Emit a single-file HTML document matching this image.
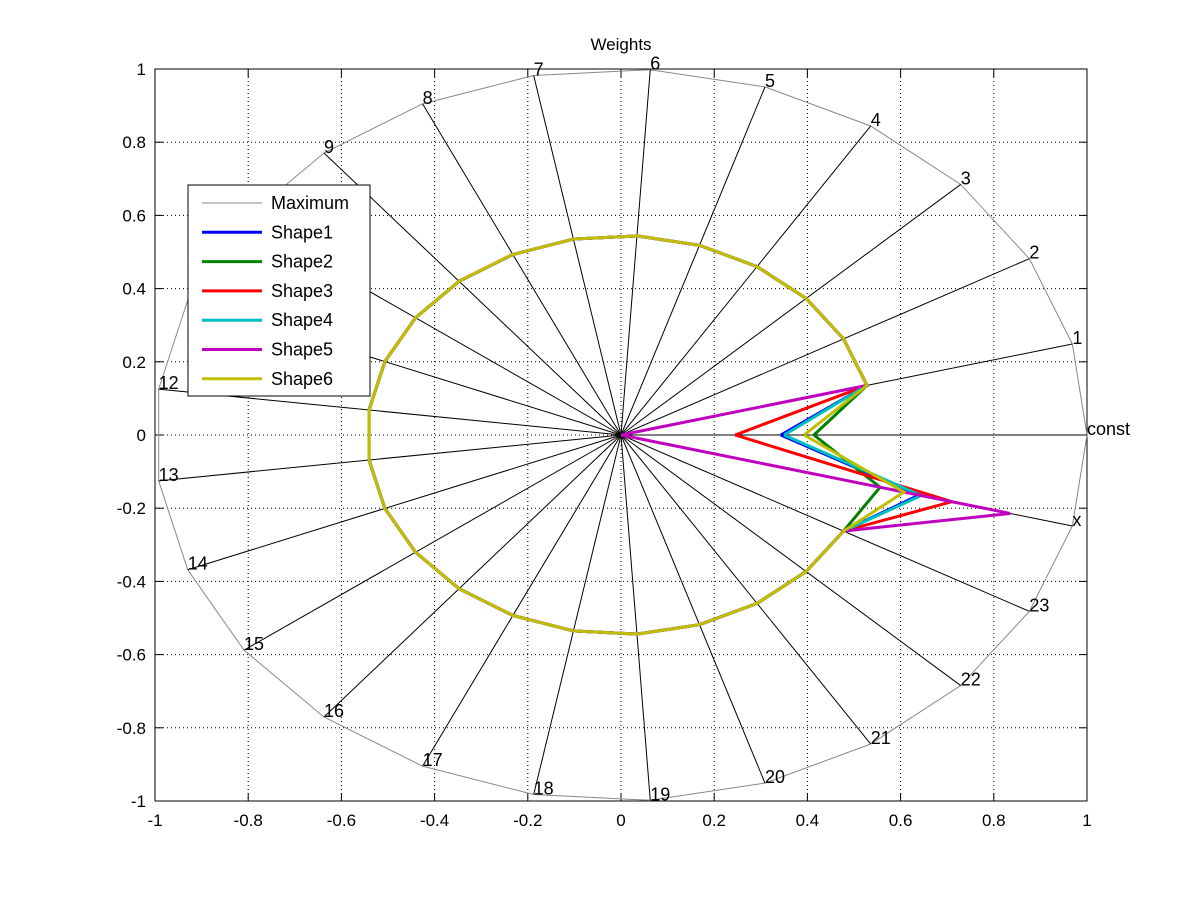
<!DOCTYPE html>
<html><head><meta charset="utf-8"><style>body{margin:0;background:#fff}svg{display:block}text{font-family:"Liberation Sans",sans-serif}</style></head>
<body>
<svg id="s" width="1201" height="901" xmlns="http://www.w3.org/2000/svg"></svg>
<script>
const cx=621,cy=435,sx=466,sy=366;
const X=v=>cx+v*sx, Y=v=>cy-v*sy;
let h='<rect width="1201" height="901" fill="#fff"/>';
for(let i=-5;i<=5;i++){const v=i/5;
 if(i>-5&&i<5){h+=`<line x1="${X(v)}" y1="69" x2="${X(v)}" y2="801" stroke="#000" stroke-width="1" stroke-dasharray="1,3"/>`;
 h+=`<line x1="155" y1="${Y(v)}" x2="1087" y2="${Y(v)}" stroke="#000" stroke-width="1" stroke-dasharray="1,3"/>`;}
 const lbl=(Math.round(v*10)/10).toString();
 h+=`<text x="${X(v)}" y="826" font-size="17" text-anchor="middle">${lbl}</text>`;
 h+=`<text x="146" y="${Y(v)+6}" font-size="17" text-anchor="end">${lbl}</text>`;
 h+=`<line x1="${X(v)}" y1="801" x2="${X(v)}" y2="793" stroke="#000"/><line x1="${X(v)}" y1="69" x2="${X(v)}" y2="77" stroke="#000"/>`;
 h+=`<line x1="155" y1="${Y(v)}" x2="163" y2="${Y(v)}" stroke="#000"/><line x1="1087" y1="${Y(v)}" x2="1079" y2="${Y(v)}" stroke="#000"/>`;
}
h+=`<rect x="155" y="69" width="932" height="732" fill="none" stroke="#000"/>`;
const N=25, names=['const'];for(let i=1;i<=23;i++)names.push(''+i);names.push('x');
const ang=i=>i*2*Math.PI/N;
const P=(i,r)=>[X(r*Math.cos(ang(i))),Y(r*Math.sin(ang(i)))];
let pts=[];for(let i=0;i<=N;i++)pts.push(P(i%N,1).join(','));
h+=`<polyline points="${pts.join(' ')}" fill="none" stroke="#888" stroke-width="1"/>`;
for(let i=0;i<N;i++){const p=P(i,1);h+=`<line x1="${cx}" y1="${cy}" x2="${p[0]}" y2="${p[1]}" stroke="#000" stroke-width="1"/>`;
 h+=`<text x="${p[0]}" y="${p[1]}" font-size="18">${names[i]}</text>`;}
const shapes=[['#0000ff',0.343,0.66],['#008000',0.414,0.574],['#ff0000',0.245,0.733],['#00bfbf',0.35,0.665],['#bf00bf',0,0.862],['#bfbf00',0.393,0.627]];
for(const [c,a,b] of shapes){let q=[];for(let i=0;i<=N;i++){const k=i%N;const r=k==0?a:(k==24?b:0.545);q.push(P(k,r).join(','));}
 h+=`<polyline points="${q.join(' ')}" fill="none" stroke="${c}" stroke-width="3" stroke-linejoin="miter"/>`;}
h+=`<text x="621" y="50" font-size="17" text-anchor="middle">Weights</text>`;
h+=`<rect x="188" y="185" width="182" height="211" fill="#fff" stroke="#000"/>`;
const leg=[['#888','Maximum',1],['#0000ff','Shape1',3],['#008000','Shape2',3],['#ff0000','Shape3',3],['#00bfbf','Shape4',3],['#bf00bf','Shape5',3],['#bfbf00','Shape6',3]];
leg.forEach((l,i)=>{const y=203+i*29.3;h+=`<line x1="202" y1="${y}" x2="262" y2="${y}" stroke="${l[0]}" stroke-width="${l[2]}"/><text x="271" y="${y+6}" font-size="18">${l[1]}</text>`;});
document.getElementById('s').innerHTML=h;
</script>
</body></html>
